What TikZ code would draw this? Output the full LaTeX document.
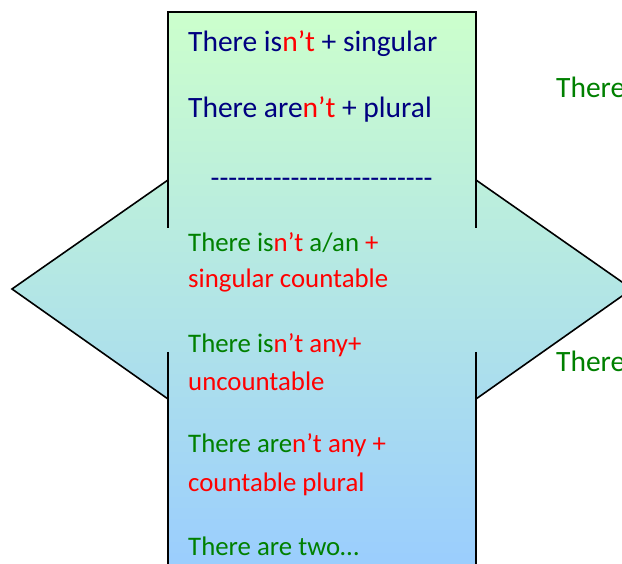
\documentclass[tikz,border=0pt]{standalone}
\usepackage{fontspec}
\setmainfont{Carlito}
\usepackage{tikz}
\usepackage{xcolor}
\definecolor{navy}{RGB}{0,0,128}
\definecolor{leaf}{RGB}{0,128,0}
\definecolor{topgreen}{RGB}{204,255,204}
\definecolor{bottomblue}{RGB}{153,204,255}

\begin{document}
\begin{tikzpicture}[x=1pt,y=-1pt,
  edge/.style={line width=1.6pt},
  txt/.style={anchor=base west,inner sep=0pt,font=\fontsize{29.5}{36}\selectfont},
  small/.style={txt,font=\fontsize{26.8}{36}\selectfont}]
  \useasboundingbox (0,0) rectangle (622,564);
  \clip (0,0) rectangle (622,564);
  % Corners
  \coordinate (tl) at (168,12);
  \coordinate (tr) at (476,12);
  \coordinate (bl) at (168,580);
  \coordinate (br) at (476,580);
  \coordinate (lp) at (12,289);
  \coordinate (rp) at (632,289);
  % Shaded cross
  \shade[top color=topgreen,bottom color=bottomblue]
    (tl) -- (tr) -- (476,180) -- (rp) -- (476,399) -- (br)
    -- (bl) -- (168,399) -- (lp) -- (168,180) -- cycle;
  % Outline
  \draw[edge] (168,228) -- (tl) -- (tr) -- (476,228);
  \draw[edge] (168,352) -- (bl);
  \draw[edge] (476,352) -- (br);
  \draw[edge] (168,180) -- (lp) -- (168,399);
  \draw[edge] (476,180) -- (rp) -- (476,399);
  % Texts
  \def\dashrow{\foreach \i in {1,...,25}{-\kern0pt}}
  \node[txt,text=navy] (sing) at (188,51.5) {There is\textcolor{red}{n’t} + singular};
  \node[txt,text=navy] (plur) at (188,118) {There are\textcolor{red}{n’t} + plural};
  \node[txt,text=navy,font=\fontsize{29}{36}\selectfont] (rule) at (210.5,187.5) {\dashrow};
  \node[small,text=leaf] (cntA) at (188,251.7) {There is\textcolor{red}{n’t} a/an \textcolor{red}{+}};
  \node[small,text=red] (cntB) at (188,288) {singular countable};
  \node[small,text=leaf] (uncA) at (188,353) {There is\textcolor{red}{n’t any+}};
  \node[small,text=red] (uncB) at (188,390.7) {uncountable};
  \node[small,text=leaf] (plA) at (188,453) {There are\textcolor{red}{n’t any +}};
  \node[small,text=red] (plB) at (188,491.7) {countable plural};
  \node[small,text=leaf] (two) at (188,555) {There are two…};
  \node[txt,text=leaf] (thA) at (556,98) {There};
  \node[txt,text=leaf] (thB) at (556,371.7) {There};
\end{tikzpicture}
\end{document}
